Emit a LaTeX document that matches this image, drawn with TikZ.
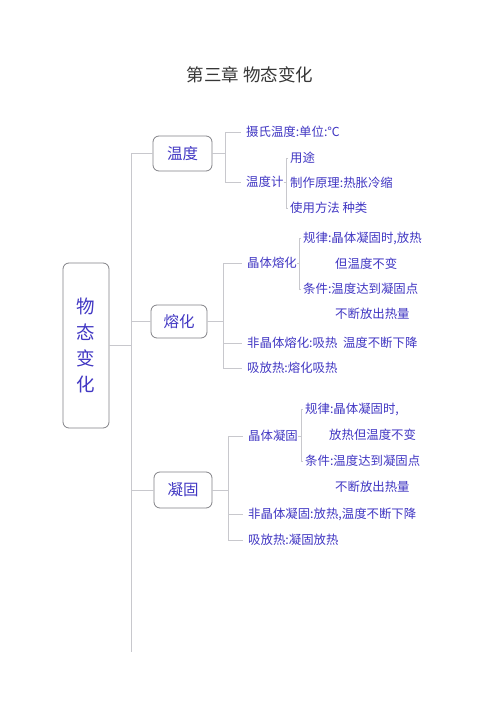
\documentclass[tikz,border=0pt]{standalone}
\usepackage{fontspec}
\newfontfamily\cjk{Noto Sans CJK SC}
\definecolor{txtblue}{RGB}{65,55,195}
\definecolor{titlegray}{RGB}{55,55,55}
\definecolor{linegray}{RGB}{200,200,205}
\definecolor{boxgray}{RGB}{130,130,135}
\begin{document}
\begin{tikzpicture}[x=1pt,y=-1pt,
  box/.style={draw=boxgray, rounded corners=6pt, line width=0.8pt, inner sep=0pt,
    text=txtblue, font=\cjk\fontsize{15.5}{15.5}\selectfont},
  lbl/.style={anchor=west, inner sep=0pt, text=txtblue, font=\cjk\fontsize{12.4}{12.4}\selectfont},
  conn/.style={draw=linegray, line width=0.8pt}]
\useasboundingbox (0,0) rectangle (500,707);
\fill[white] (0,0) rectangle (500,707);

\node[inner sep=0pt, text=titlegray, font=\cjk\fontsize{17.5}{17.5}\selectfont] (title) at (250,75) {第三章 物态变化};

\node[box, minimum width=46pt, minimum height=165pt, align=center,
  font=\cjk\fontsize{18.5}{26}\selectfont] (root) at (86,345.5) {物\\态\\变\\化};

\node[box, minimum width=59pt, minimum height=35pt] (wd) at (182.5,153.5) {温度};
\node[box, minimum width=56pt, minimum height=33pt] (rh) at (179,321.5) {熔化};
\node[box, minimum width=58pt, minimum height=36pt] (ng) at (183,490) {凝固};

% 温度
\node[lbl] (a1) at (246,132) {摄氏温度:单位:℃};
\node[lbl] (a2) at (246,182) {温度计};
\node[lbl] (a21) at (290,158) {用途};
\node[lbl] (a22) at (290,183) {制作原理:热胀冷缩};
\node[lbl] (a23) at (290,208) {使用方法\ 种类};

% 熔化
\node[lbl] (b1) at (247,263) {晶体熔化};
\node[lbl] (b11) at (303,238) {规律:晶体凝固时,放热};
\node[lbl] (b12) at (335,264) {但温度不变};
\node[lbl] (b13) at (303,289) {条件:温度达到凝固点};
\node[lbl] (b14) at (335,314) {不断放出热量};
\node[lbl] (b2) at (247,343) {非晶体熔化:吸热\ \ 温度不断下降};
\node[lbl] (b3) at (247,368) {吸放热:熔化吸热};

% 凝固
\node[lbl] (c1) at (248,436) {晶体凝固};
\node[lbl] (c11) at (305,409) {规律:晶体凝固时,};
\node[lbl] (c12) at (329,435) {放热但温度不变};
\node[lbl] (c13) at (305,461) {条件:温度达到凝固点};
\node[lbl] (c14) at (335,487) {不断放出热量};
\node[lbl] (c2) at (248,514) {非晶体凝固:放热,温度不断下降};
\node[lbl] (c3) at (248,540) {吸放热:凝固放热};

% trunk
\coordinate (tk) at (131,345.5);
\coordinate (tkend) at (131,652);
\draw[conn] (root.east) -- (tk);
\draw[conn] (tk |- wd) -- (tkend);
\draw[conn] (tk |- wd) -- (wd.west);
\draw[conn] (tk |- rh) -- (rh.west);
\draw[conn] (tk |- ng) -- (ng.west);

% 温度 bracket
\coordinate (wb) at (225,153.5);
\draw[conn] (wd.east) -- (wb);
\draw[conn] (wb |- a1) -- (wb |- a2);
\draw[conn] (wb |- a1) -- ([xshift=-5pt]a1.west);
\draw[conn] (wb |- a2) -- ([xshift=-5pt]a2.west);
\coordinate (sb) at (286,183);
\draw[conn] (a2.east) -- (sb |- a2);
\draw[conn] (sb |- a21) -- (sb |- a23);
\draw[conn] (sb |- a21) -- ([xshift=-2pt]a21.west);
\draw[conn] (sb |- a23) -- ([xshift=-2pt]a23.west);

% 熔化 bracket
\coordinate (rb) at (223,321.5);
\draw[conn] (rh.east) -- (rb);
\draw[conn] (rb |- b1) -- (rb |- b3);
\draw[conn] (rb |- b1) -- ([xshift=-5pt]b1.west);
\draw[conn] (rb |- b2) -- ([xshift=-5pt]b2.west);
\draw[conn] (rb |- b3) -- ([xshift=-5pt]b3.west);
\coordinate (rsb) at (299,263);
\draw[conn] (b1.east) -- (rsb |- b1);
\draw[conn] (rsb |- b11) -- (rsb |- b13);
\draw[conn] (rsb |- b11) -- ([xshift=-2pt]b11.west);
\draw[conn] (rsb |- b13) -- ([xshift=-2pt]b13.west);

% 凝固 bracket
\coordinate (nb) at (228,490);
\draw[conn] (ng.east) -- (nb);
\draw[conn] (nb |- c1) -- (nb |- c3);
\draw[conn] (nb |- c1) -- ([xshift=-5pt]c1.west);
\draw[conn] (nb |- c2) -- ([xshift=-5pt]c2.west);
\draw[conn] (nb |- c3) -- ([xshift=-5pt]c3.west);
\coordinate (nsb) at (301,436);
\draw[conn] (c1.east) -- (nsb |- c1);
\draw[conn] (nsb |- c11) -- (nsb |- c13);
\draw[conn] (nsb |- c11) -- ([xshift=-2pt]c11.west);
\draw[conn] (nsb |- c13) -- ([xshift=-2pt]c13.west);
\end{tikzpicture}
\end{document}
